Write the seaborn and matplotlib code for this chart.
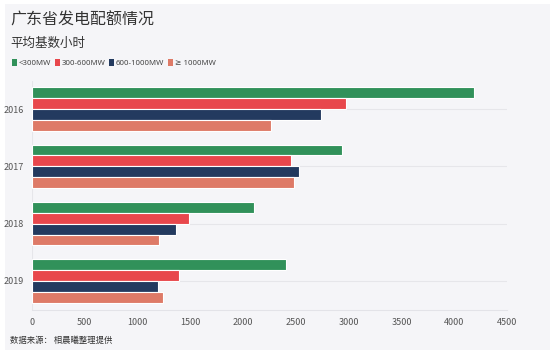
import matplotlib
matplotlib.use("Agg")
import matplotlib.pyplot as plt
import matplotlib.patches as mpatches
import seaborn as sns
import pandas as pd

years = ["2016", "2017", "2018", "2019"]
series_names = ["<300MW", "300-600MW", "600-1000MW", "≥ 1000MW"]
lt300 = [4190, 2940, 2100, 2410]
s300_600 = [2970, 2450, 1490, 1390]
s600_1000 = [2740, 2530, 1360, 1195]
ge1000 = [2260, 2480, 1200, 1240]
colors = ["#31915a", "#e8474c", "#233a5f", "#de7a67"]
xticks = [0, 500, 1000, 1500, 2000, 2500, 3000, 3500, 4000, 4500]

rows = []
for name, vals in zip(series_names, [lt300, s300_600, s600_1000, ge1000]):
    for y, v in zip(years, vals):
        rows.append({"year": y, "type": name, "value": v})
df = pd.DataFrame(rows)

sns.set_theme(style="white")
plt.rcParams["font.family"] = ["Noto Sans CJK SC", "DejaVu Sans"]

bg = "#f5f5f8"
fig = plt.figure(figsize=(5.5, 3.55), dpi=100, facecolor="white")
fig.patches.append(mpatches.Rectangle((5 / 550, 5 / 355), 1 - 5 / 550, 1 - 9 / 355,
                                      transform=fig.transFigure, facecolor=bg,
                                      edgecolor="none", zorder=-10))
ax = fig.add_axes([32 / 550, 1 - 309.5 / 355, 475 / 550, 229 / 355])
ax.set_facecolor(bg)

sns.barplot(data=df, y="year", x="value", hue="type", orient="h",
            palette=colors, saturation=1, width=0.76, edgecolor="#ffffff", linewidth=0.8,
            ax=ax, legend=False, zorder=3)

ax.set_xlim(0, 4500)
ax.set_ylim(3.5, -0.5)
ax.set_xticks(xticks)
ax.set_xticklabels([str(t) for t in xticks], fontsize=6.5, color="#555555")
ax.tick_params(axis="y", labelsize=6.5, labelcolor="#555555", length=0, pad=6)
ax.tick_params(axis="x", length=0, pad=6)
ax.set_xlabel("")
ax.set_ylabel("")
for y in range(len(years)):
    ax.axhline(y, color="#e6e6ea", linewidth=0.8, zorder=1)
ax.axvline(0, color="#e6e6ea", linewidth=0.8, zorder=1)
for s in ["top", "right", "left"]:
    ax.spines[s].set_visible(False)
ax.spines["bottom"].set_color("#e3e3e8")
ax.spines["bottom"].set_linewidth(0.8)

fig.text(10 / 550, 1 - 20 / 355, "广东省发电配额情况", fontsize=11.5, color="#333333",
         va="center", ha="left")
fig.text(10 / 550, 1 - 43 / 355, "平均基数小时", fontsize=9, color="#333333",
         va="center", ha="left")
fig.text(10 / 550, 1 - 340 / 355, "数据来源： 相晨曦整理提供", fontsize=6, color="#333333",
         va="center", ha="left")

handles = [mpatches.Patch(facecolor=c, edgecolor="none", label=n)
           for c, n in zip(colors, series_names)]
fig.legend(handles=handles, loc="center left", bbox_to_anchor=(9 / 550, 1 - 63 / 355),
           ncol=4, frameon=False, prop={"family": ["Noto Sans", "DejaVu Sans"], "size": 5.6},
           handlelength=0.6, handleheight=1.1,
           handletextpad=0.25, columnspacing=0.5, labelcolor="#444444", borderaxespad=0)

fig.savefig("out.png", dpi=100, facecolor="white")
